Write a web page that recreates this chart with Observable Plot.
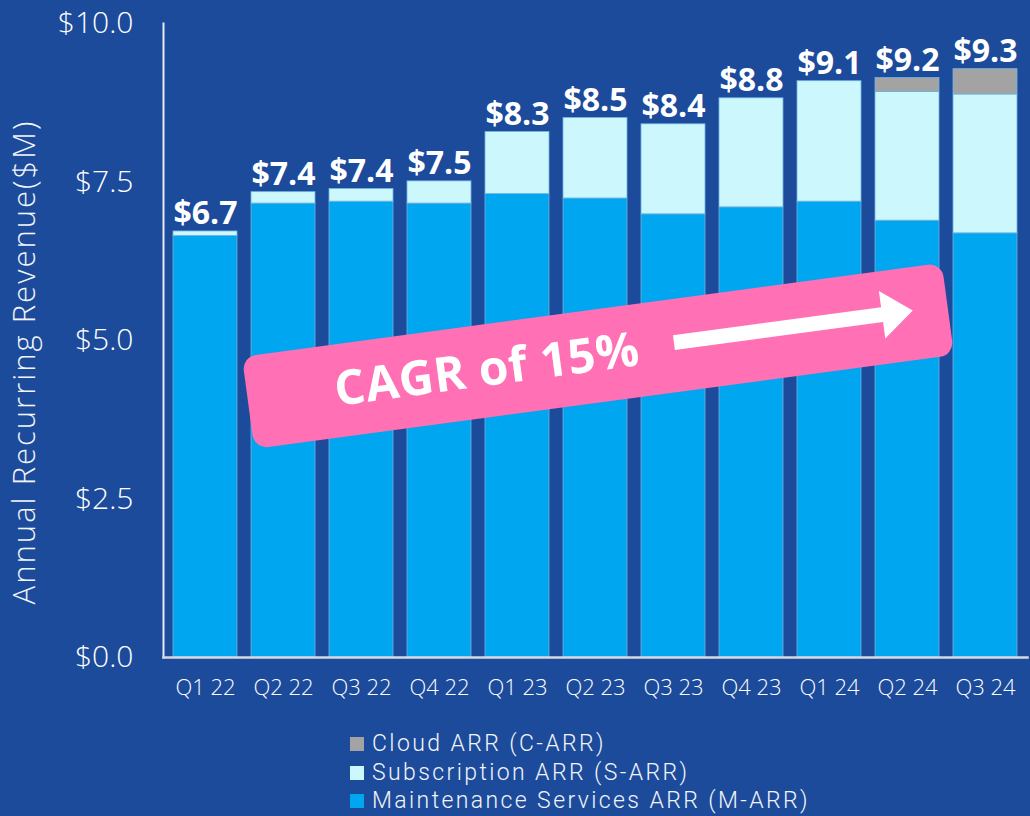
<!DOCTYPE html>
<html>
<head>
<meta charset="utf-8">
<script src="https://cdn.jsdelivr.net/npm/d3@7"></script>
<script src="https://cdn.jsdelivr.net/npm/@observablehq/plot@0.6"></script>
<style>
  html, body { margin: 0; padding: 0; background: #1c4b9c; width: 1030px; height: 816px; overflow: hidden; }
  #wrap { position: relative; width: 1030px; height: 816px; font-family: "Open Sans", sans-serif; }
  #legend { position: absolute; left: 350px; top: 730px; color: #f2f4f8; font-family: Roboto, sans-serif; font-size: 23px; font-weight: 300; line-height: 28.5px; letter-spacing: 2.4px; }
  #legend .row { display: flex; align-items: center; white-space: nowrap; height: 28.5px; }
  #legend .sw { width: 14px; height: 14px; margin-right: 8px; display: inline-block; flex: none; }
</style>
</head>
<body>
<div id="wrap"><div id="chart"></div><div id="legend"></div></div>
<script>
const quarters = ["Q1 22","Q2 22","Q3 22","Q4 22","Q1 23","Q2 23","Q3 23","Q4 23","Q1 24","Q2 24","Q3 24"];
const maintenance = [6.65, 7.16, 7.19, 7.16, 7.31, 7.24, 6.99, 7.10, 7.19, 6.89, 6.69];
const subscription = [0.07, 0.18, 0.20, 0.35, 0.98, 1.27, 1.42, 1.72, 1.90, 2.03, 2.19];
const cloud = [0, 0, 0, 0, 0, 0, 0, 0, 0, 0.22, 0.40];
const totalLabels = ["$6.7","$7.4","$7.4","$7.5","$8.3","$8.5","$8.4","$8.8","$9.1","$9.2","$9.3"];
const seriesNames = ["Maintenance Services ARR (M-ARR)", "Subscription ARR (S-ARR)", "Cloud ARR (C-ARR)"];
const seriesColors = ["#00a6f0", "#ccf7fd", "#a3a3a3"];
const yTicks = [0, 2.5, 5, 7.5, 10];
const yLabel = "Annual Recurring Revenue($M)";
const bannerText = "CAGR of 15%";
const bannerValue = 4.75;

const seriesValues = [maintenance, subscription, cloud];
const rows = [];
seriesNames.forEach((s, si) => {
  quarters.forEach((q, i) => rows.push({quarter: q, series: s, value: seriesValues[si][i]}));
});
const totals = quarters.map((q, i) => ({quarter: q, total: maintenance[i] + subscription[i] + cloud[i], label: totalLabels[i]}));

function yAxisLabel(index, scales, values, dim) {
  const cx = dim.marginLeft - 136;
  const cy = (dim.marginTop + dim.height - dim.marginBottom) / 2 + 22;
  const t = d3.create("svg:text").text(yLabel)
    .attr("transform", `translate(${cx},${cy}) rotate(-90)`)
    .attr("text-anchor", "middle").attr("dominant-baseline", "middle")
    .attr("fill", "#f2f4f8").attr("font-size", 31).attr("font-weight", 300)
    .attr("letter-spacing", "2px")
    .attr("font-family", "'Open Sans', sans-serif");
  return t.node();
}

function banner(index, scales, values, dim) {
  const fw = dim.width - dim.marginLeft - dim.marginRight;
  const cx = dim.marginLeft + fw * 0.5035;
  const cy = scales.y(bannerValue);
  const g = d3.create("svg:g").attr("transform", `translate(${cx},${cy}) rotate(-7.65)`);
  g.append("rect").attr("x", -353).attr("y", -46.5).attr("width", 706).attr("height", 93)
    .attr("rx", 14).attr("fill", "#ff70b5");
  g.append("text").text(bannerText).attr("x", -112).attr("y", 2)
    .attr("text-anchor", "middle").attr("dominant-baseline", "middle")
    .attr("fill", "white").attr("font-size", 48).attr("font-weight", 700)
    .attr("letter-spacing", "0.5px")
    .attr("font-family", "'Open Sans', sans-serif");
  const sy = -3;
  g.append("path").attr("fill", "white")
    .attr("d", `M77,${sy-7.5} L287,${sy-7.5} L287,${sy-24} L318,${sy} L287,${sy+24} L287,${sy+7.5} L77,${sy+7.5} Z`);
  return g.node();
}

const chart = Plot.plot({
  width: 1030,
  height: 716,
  marginTop: 23,
  marginBottom: 59,
  marginLeft: 163,
  marginRight: 3,
  style: {background: "transparent", color: "white", fontFamily: "'Open Sans', sans-serif"},
  x: {domain: quarters, paddingInner: 0.18, paddingOuter: 0.09, label: null},
  y: {domain: [0, 10], label: null},
  color: {domain: seriesNames, range: seriesColors},
  marks: [
    Plot.barY(rows, {x: "quarter", y: "value", fill: "series", stroke: "#6fb3df", strokeWidth: 0.8}),
    Plot.frame({anchor: "left", stroke: "#e4ebf5", strokeWidth: 2}),
    Plot.frame({anchor: "bottom", stroke: "#d6d9de", strokeWidth: 2.5}),
    Plot.axisY({ticks: yTicks, tickFormat: d => "$" + d.toFixed(1), tickSize: 0, tickPadding: 30, fontSize: 30, fontWeight: 300, label: null}),
    Plot.axisX({tickSize: 0, tickPadding: 22, fontSize: 22, fontWeight: 300, label: null, style: {letterSpacing: "0.6px"}}),
    Plot.text(totals, {x: "quarter", y: "total", text: "label", lineAnchor: "bottom", dy: -7, fontSize: 32, fontWeight: 700, fill: "white"}),
    yAxisLabel,
    banner
  ]
});
document.getElementById("chart").appendChild(chart);

const legend = document.getElementById("legend");
[2, 1, 0].forEach(i => {
  const row = document.createElement("div");
  row.className = "row";
  const sw = document.createElement("span");
  sw.className = "sw";
  sw.style.background = seriesColors[i];
  row.appendChild(sw);
  row.appendChild(document.createTextNode(seriesNames[i]));
  legend.appendChild(row);
});
</script>
</body>
</html>
